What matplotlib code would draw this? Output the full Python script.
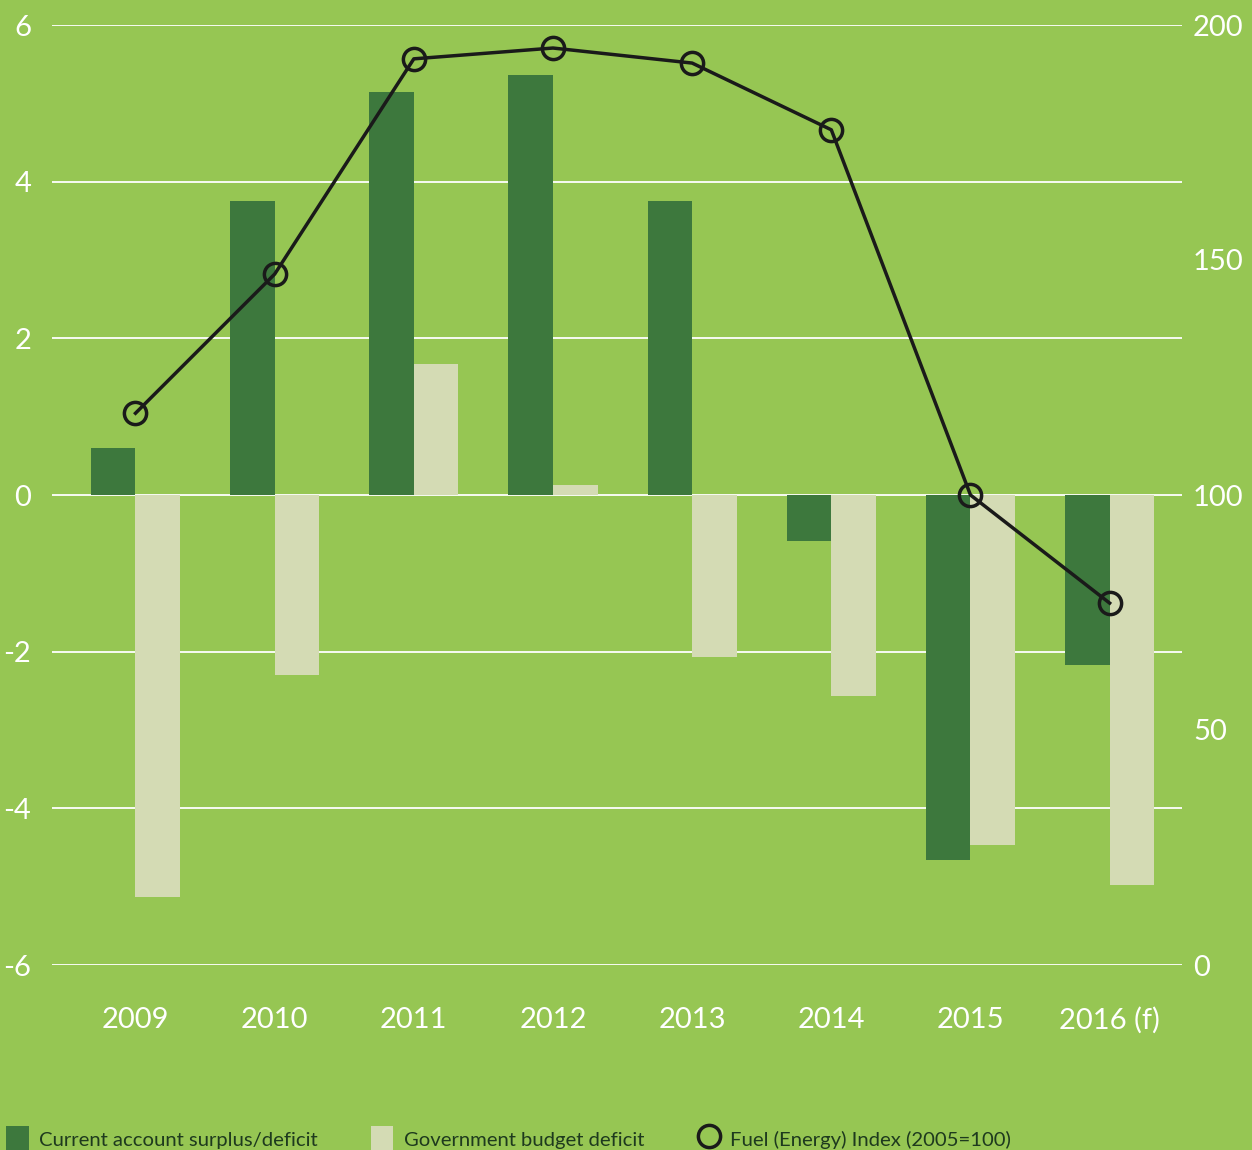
import matplotlib
matplotlib.use('Agg')
import matplotlib.pyplot as plt
import numpy as np
from matplotlib.patches import Patch
from matplotlib.lines import Line2D

# data
years = ['2009', '2010', '2011', '2012', '2013', '2014', '2015', '2016 (f)']
current_account = [0.6, 3.75, 5.15, 5.36, 3.75, -0.59, -4.66, -2.17]
budget_deficit = [-5.13, -2.3, 1.67, 0.13, -2.07, -2.57, -4.47, -4.98]
fuel_index = [117.4, 147, 192.8, 195.1, 191.9, 177.7, 100, 77]

bg = '#96c653'
dark = '#3d783d'
light = '#d4dbb4'

plt.rcParams['font.family'] = ['Lato', 'DejaVu Sans']
plt.rcParams['axes.unicode_minus'] = False

fig = plt.figure(figsize=(12.52, 11.5), dpi=100, facecolor=bg)
ax = fig.add_axes([52/1252, 1-965/1150, (1182-52)/1252, 940/1150])
ax.set_facecolor(bg)

x = np.arange(len(years))
w = 0.32
ax.bar(x - w/2, current_account, w, color=dark, zorder=2)
ax.bar(x + w/2, budget_deficit, w, color=light, zorder=2)

ax.set_ylim(-6, 6)
ax.set_xlim(-0.6, 7.52)
ax.set_yticks([-6, -4, -2, 0, 2, 4, 6])
ax.grid(axis='y', color='white', linewidth=1.3, zorder=0)
ax.set_axisbelow(True)
for s in ax.spines.values():
    s.set_visible(False)
ax.set_xticks(x)
ax.set_xticklabels(years)
ax.tick_params(axis='both', length=0, colors='white', labelsize=21)
ax.tick_params(axis='y', pad=15)
ax.tick_params(axis='x', pad=30)

ax2 = ax.twinx()
ax2.set_ylim(0, 200)
ax2.set_yticks([0, 50, 100, 150, 200])
for s in ax2.spines.values():
    s.set_visible(False)
ax2.tick_params(axis='y', length=0, colors='white', labelsize=21, pad=8)
ax2.plot(x, fuel_index, color='#1a1a1a', linewidth=2.5, marker='o',
         markersize=16, markerfacecolor='none', markeredgewidth=2.5,
         markeredgecolor='#1a1a1a', zorder=3)

handles = [Patch(facecolor=dark, edgecolor='none'),
           Patch(facecolor=light, edgecolor='none'),
           Line2D([], [], color='none', marker='o', markersize=16,
                  markerfacecolor='none', markeredgecolor='#1a1a1a', markeredgewidth=2.5)]
labels = ['Current account surplus/deficit', 'Government budget deficit',
          'Fuel (Energy) Index (2005=100)']
leg = fig.legend(handles, labels, loc='lower left', bbox_to_anchor=(0.005, -0.002),
                 ncol=3, frameon=False, fontsize=14.6, handlelength=1.1, handleheight=1.6,
                 handletextpad=0.5, columnspacing=2.65, borderaxespad=0, borderpad=0)
for t in leg.get_texts():
    t.set_color('#1e3a1e')

fig.savefig('out.png', dpi=100, facecolor=bg)
